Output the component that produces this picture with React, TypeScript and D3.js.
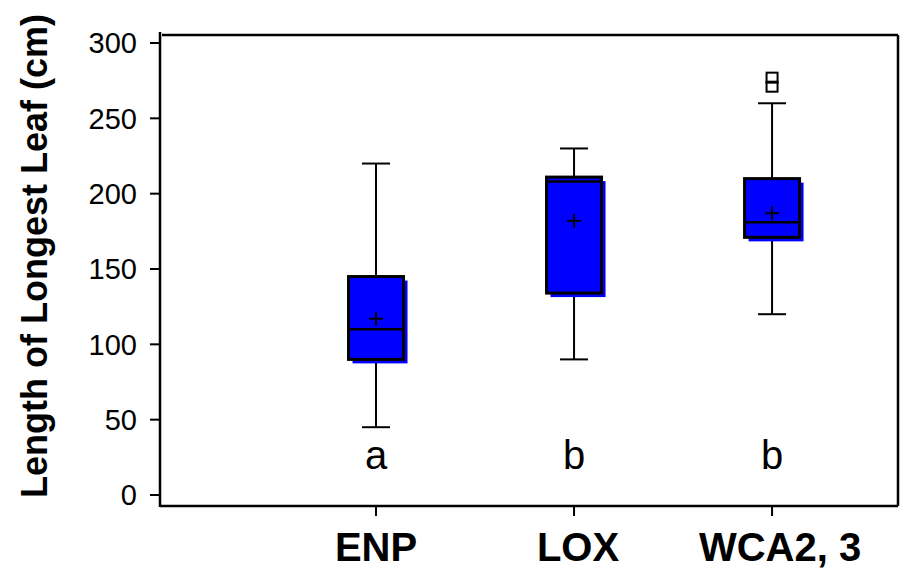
import React from "react";
import * as d3 from "d3";

const categories = ["ENP", "LOX", "WCA2, 3"];
const whiskerLow = [45, 90, 120];
const q1 = [90, 134, 171];
const median = [110, 208, 181];
const q3 = [145, 211, 210];
const whiskerHigh = [220, 230, 260];
const means = [117, 182, 187];
const outliers = [[], [], [271, 277]];
const groupLetters = ["a", "b", "b"];
const yTicks = [0, 50, 100, 150, 200, 250, 300];

export default function App() {
  const W = 909, H = 569;
  const left = 160, right = 898, top = 35, bottom = 506;
  const y = d3.scaleLinear().domain([0, 300]).range([495, 43]);
  const x = d3.scaleLinear().domain([-0.0909, 3.636]).range([left, right]);
  const boxW = 55;
  const capW = 28;
  const font = "Liberation Sans, Arial, Helvetica, sans-serif";

  return (
    <svg width={W} height={H} style={{ position: "absolute", left: 0, top: 0, background: "#fff" }} fontFamily={font}>
      <rect x={0} y={0} width={W} height={H} fill="#fff" />
      {/* frame */}
      <line x1={left + 2} x2={right} y1={top} y2={top} stroke="#000" strokeWidth={2.5} />
      <line x1={right} x2={right} y1={top} y2={bottom} stroke="#000" strokeWidth={2.5} />
      <line x1={left} x2={right} y1={bottom} y2={bottom} stroke="#000" strokeWidth={2.5} />
      <line x1={left} x2={left} y1={32} y2={bottom + 1} stroke="#000" strokeWidth={2.5} />
      {/* y ticks */}
      {yTicks.map((t) => (
        <g key={t}>
          <line x1={150} x2={left} y1={y(t)} y2={y(t)} stroke="#000" strokeWidth={2} />
          <text x={137} y={y(t)} dy="0.36em" textAnchor="end" fontSize={29} fill="#000">
            {t}
          </text>
        </g>
      ))}
      {/* y label */}
      <text
        transform={`translate(47,${256}) rotate(-90)`}
        textAnchor="middle"
        fontSize={36}
        fontWeight="bold"
        fill="#000"
      >
        Length of Longest Leaf (cm)
      </text>
      {/* x ticks & labels */}
      {categories.map((c, i) => {
        const cx = x(i + 1);
        return (
          <g key={c}>
            <line x1={cx} x2={cx} y1={bottom} y2={516} stroke="#000" strokeWidth={2} />
            <text x={cx + i * 4} y={561} textAnchor="middle" fontSize={40} fontWeight="bold" fill="#000">
              {c}
            </text>
            <text x={cx} y={469} textAnchor="middle" fontSize={40} fill="#000">
              {groupLetters[i]}
            </text>
          </g>
        );
      })}
      {/* boxes */}
      {categories.map((c, i) => {
        const cx = x(i + 1);
        const yQ3 = y(q3[i]);
        const yQ1 = y(q1[i]);
        return (
          <g key={"b" + c}>
            <line x1={cx} x2={cx} y1={y(whiskerHigh[i])} y2={yQ3} stroke="#000" strokeWidth={2} />
            <line x1={cx} x2={cx} y1={yQ1} y2={y(whiskerLow[i])} stroke="#000" strokeWidth={2} />
            <line x1={cx - capW / 2} x2={cx + capW / 2} y1={y(whiskerHigh[i])} y2={y(whiskerHigh[i])} stroke="#000" strokeWidth={2} />
            <line x1={cx - capW / 2} x2={cx + capW / 2} y1={y(whiskerLow[i])} y2={y(whiskerLow[i])} stroke="#000" strokeWidth={2} />
            <rect x={cx - boxW / 2 + 4} y={yQ3 + 4} width={boxW} height={yQ1 - yQ3} fill="#0000ff" />
            <rect x={cx - boxW / 2} y={yQ3} width={boxW} height={yQ1 - yQ3} fill="#0000ff" stroke="#000" strokeWidth={3} />
            <line x1={cx - boxW / 2} x2={cx + boxW / 2} y1={y(median[i])} y2={y(median[i])} stroke="#000" strokeWidth={2.5} />
            <line x1={cx - 7} x2={cx + 7} y1={y(means[i])} y2={y(means[i])} stroke="#000" strokeWidth={2} />
            <line x1={cx} x2={cx} y1={y(means[i]) - 7} y2={y(means[i]) + 7} stroke="#000" strokeWidth={2} />
            {outliers[i].map((o, k) => (
              <rect key={k} x={cx - 5.5} y={y(o) - 5} width={11} height={10} fill="none" stroke="#000" strokeWidth={2} />
            ))}
          </g>
        );
      })}
    </svg>
  );
}
